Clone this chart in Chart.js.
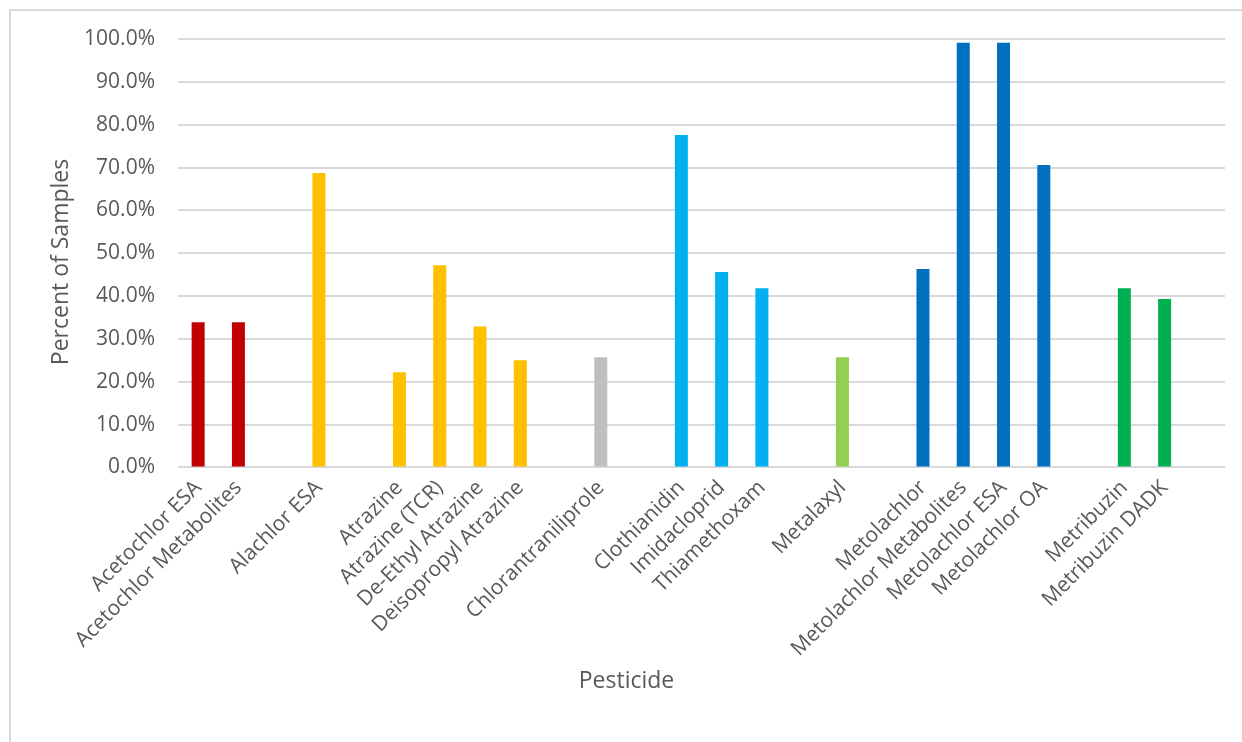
<!DOCTYPE html>
<html>
<head>
<meta charset="utf-8">
<title>Percent of Samples by Pesticide</title>
<script src="https://cdn.jsdelivr.net/npm/chart.js@4/dist/chart.umd.min.js"></script>
<style>
  html, body { margin: 0; padding: 0; background: #ffffff; }
  #wrap { position: relative; width: 1242px; height: 742px; }
  canvas { display: block; }
</style>
</head>
<body>
<div id="wrap"><canvas id="chart" width="1242" height="742"></canvas></div>
<script>
// Pesticide names; blank entries separate the chemical families
const pesticides = [
  'Acetochlor ESA', 'Acetochlor Metabolites', '',
  'Alachlor ESA', '',
  'Atrazine', 'Atrazine (TCR)', 'De-Ethyl Atrazine', 'Deisopropyl Atrazine', '',
  'Chlorantraniliprole', '',
  'Clothianidin', 'Imidacloprid', 'Thiamethoxam', '',
  'Metalaxyl', '',
  'Metolachlor', 'Metolachlor Metabolites', 'Metolachlor ESA', 'Metolachlor OA', '',
  'Metribuzin', 'Metribuzin DADK', ''
];

// Percent of samples with a detection
const percentOfSamples = [
  33.9, 33.9, null,
  68.7, null,
  22.2, 47.2, 32.9, 25.0, null,
  25.7, null,
  77.6, 45.6, 41.8, null,
  25.7, null,
  46.3, 99.1, 99.1, 70.6, null,
  41.8, 39.3, null
];

// Chemical family of each entry (index into familyColors)
const family = [
  0, 0, null,
  1, null,
  1, 1, 1, 1, null,
  2, null,
  3, 3, 3, null,
  4, null,
  5, 5, 5, 5, null,
  6, 6, null
];

// y-axis tick range (percent)
const yTickMin = 0;
const yTickMax = 100;
const yTickStep = 10;

const familyColors = ['#C00000', '#FFC000', '#BFBFBF', '#00B0F0', '#92D050', '#0070C0', '#00B050'];
const textColor = '#595959';
const gridColor = '#D9D9D9';
const fontFamily = '"Open Sans", "Liberation Sans", sans-serif';

// White background plus the light frame around the chart
const framePlugin = {
  id: 'frame',
  beforeDraw(chart) {
    const ctx = chart.ctx;
    ctx.save();
    ctx.fillStyle = '#ffffff';
    ctx.fillRect(0, 0, chart.width, chart.height);
    ctx.strokeStyle = gridColor;
    ctx.lineWidth = 2;
    ctx.strokeRect(10, 10, chart.width + 20, chart.height + 20);
    ctx.restore();
  }
};

// Vertical axis title
const yTitlePlugin = {
  id: 'yTitle',
  afterDraw(chart, args, opts) {
    const ctx = chart.ctx;
    ctx.save();
    ctx.translate(opts.x, opts.y);
    ctx.rotate(-Math.PI / 2);
    ctx.font = opts.size + 'px ' + fontFamily;
    ctx.fillStyle = textColor;
    ctx.textAlign = 'center';
    ctx.textBaseline = 'middle';
    ctx.fillText(opts.text, 0, 0);
    ctx.restore();
  }
};

new Chart(document.getElementById('chart'), {
  type: 'bar',
  data: {
    labels: pesticides,
    datasets: [{
      label: 'Percent of Samples',
      data: percentOfSamples,
      backgroundColor: family.map(f => f === null ? 'rgba(0,0,0,0)' : familyColors[f]),
      borderWidth: 0,
      categoryPercentage: 1,
      barPercentage: 0.323
    }]
  },
  options: {
    responsive: false,
    animation: false,
    devicePixelRatio: 1,
    layout: { padding: { top: 39, right: 17, bottom: 0, left: 28 } },
    plugins: {
      legend: { display: false },
      tooltip: { enabled: false },
      title: {
        display: true,
        position: 'bottom',
        text: 'Pesticide',
        color: textColor,
        font: { family: fontFamily, size: 23, weight: 'normal', lineHeight: 1.2 },
        padding: { top: 0, bottom: 47 }
      },
      yTitle: { text: 'Percent of Samples', x: 61, y: 262, size: 23 }
    },
    scales: {
      x: {
        grid: { display: false, drawTicks: false },
        border: { display: false },
        ticks: {
          color: textColor,
          font: { family: fontFamily, size: 21 },
          minRotation: 45,
          maxRotation: 45,
          autoSkip: false,
          padding: 8
        },
        afterFit(scale) { scale.height = 200; }
      },
      y: {
        min: yTickMin,
        max: yTickMax,
        grid: { color: gridColor, lineWidth: 2, drawTicks: false },
        border: { display: false },
        ticks: {
          stepSize: yTickStep,
          color: textColor,
          font: { family: fontFamily, size: 21 },
          padding: 23,
          callback: v => v.toFixed(1) + '%'
        },
        afterFit(scale) { scale.width = 150; }
      }
    }
  },
  plugins: [framePlugin, yTitlePlugin]
});
</script>
</body>
</html>
